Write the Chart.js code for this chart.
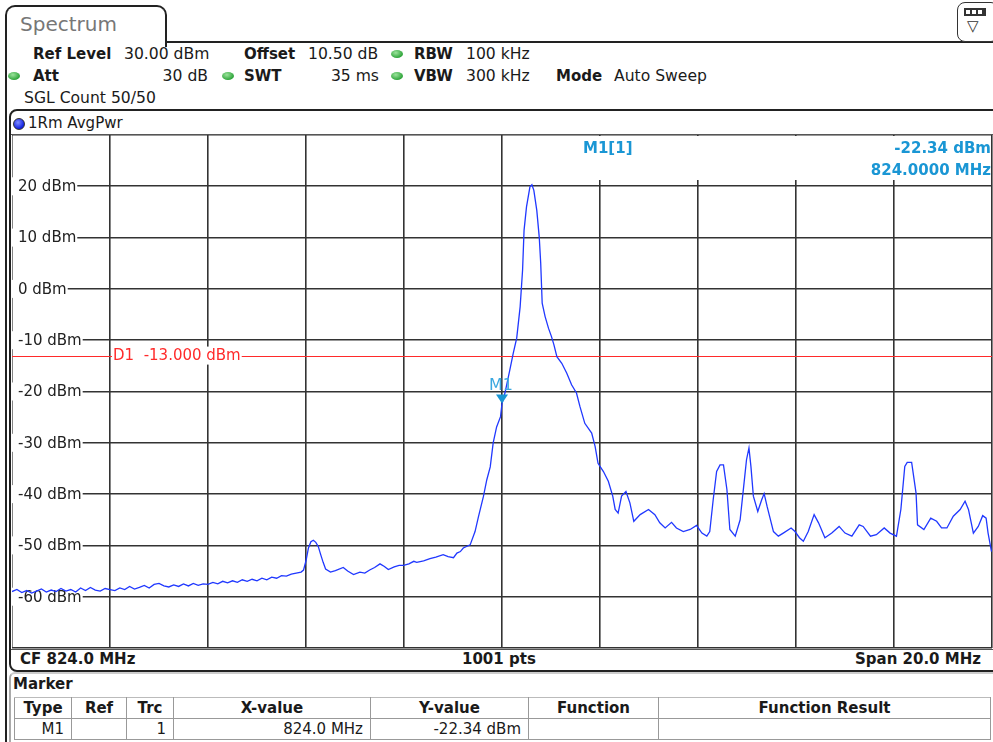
<!DOCTYPE html>
<html>
<head>
<meta charset="utf-8">
<script src="https://cdn.jsdelivr.net/npm/chart.js@4/dist/chart.umd.min.js"></script>
<style>
  body { margin: 0; width: 993px; height: 742px; background: #fff; overflow: hidden;
         font-family: "DejaVu Sans", Verdana, sans-serif; font-size: 15px; color: #1a1a1a; }
  .abs { position: absolute; white-space: nowrap; line-height: 18px; }
  .n { font-size: 15.6px; }
  .b { font-weight: bold; }
  .dot { position: absolute; width: 12px; height: 8px; border-radius: 50%;
         background: radial-gradient(ellipse at 40% 35%, #9be39b, #2ea43a 70%); }
  #tab { position: absolute; left: 5px; top: 5px; width: 158px; height: 40px; border: 2px solid #222;
         border-bottom: none; border-radius: 10px 10px 0 0; background: #fff; }
  #tabline { position: absolute; left: 165px; top: 41px; width: 830px; height: 2px; background: #222; }
  #outer { position: absolute; left: 5px; top: 43px; width: 4px; height: 699px; border-left: 2px solid #222; }
  #trbox { position: absolute; left: 9px; top: 109px; width: 990px; height: 559px; border: 2px solid #222;
           border-radius: 8px 8px 0 8px; }
  #plotframe { position: absolute; left: 11px; top: 134px; width: 982px; height: 514px;
               border-top: 1px solid #555; border-bottom: 1px solid #555; }
  #mkpanel { position: absolute; left: 9px; top: 672px; width: 990px; height: 80px;
             border-left: 2px solid #aaa; border-top: 2px solid #ccc; border-radius: 6px 0 0 0; }
  #icon { position: absolute; left: 957px; top: 2px; width: 40px; height: 38px; border: 1.5px solid #333;
          border-radius: 8px; background: #fff; }
  table { position: absolute; left: 14px; top: 697px; border-collapse: collapse; font-size: 15px;
          table-layout: fixed; }
  td { border: 1px solid #999; height: 20px; padding: 0 7px; line-height: 19px; overflow: hidden; }
  tr.h td { font-weight: bold; text-align: center; border-top: 1px solid #bbb; }
  tr.d td { text-align: right; }
  canvas { position: absolute; left: 12px; top: 135px; }
</style>
</head>
<body>
<div id="outer"></div>
<div id="tab"></div>
<div id="tabline"></div>
<div class="abs" style="left:20px;top:12px;font-size:20px;line-height:24px;color:#777;">Spectrum</div>
<div id="icon">
  <div style="position:absolute;left:6px;top:5px;width:22px;height:8px;background:#333;"></div>
  <div style="position:absolute;left:8px;top:7px;width:4px;height:4px;background:#fff;"></div>
  <div style="position:absolute;left:14px;top:7px;width:4px;height:4px;background:#fff;"></div>
  <div style="position:absolute;left:20px;top:7px;width:4px;height:4px;background:#fff;"></div>
  <div class="abs" style="left:9px;top:14px;font-size:15px;color:#333;">&#9661;</div>
</div>

<div class="abs b" style="left:33px;top:45px;">Ref Level</div>
<div class="abs n" style="left:124px;top:45px;">30.00 dBm</div>
<div class="abs b" style="left:244px;top:45px;">Offset</div>
<div class="abs n" style="left:308px;top:45px;">10.50 dB</div>
<div class="dot" style="left:391px;top:50px;"></div>
<div class="abs b" style="left:414px;top:45px;">RBW</div>
<div class="abs n" style="left:466px;top:45px;">100 kHz</div>

<div class="dot" style="left:8px;top:72px;"></div>
<div class="abs b" style="left:33px;top:67px;">Att</div>
<div class="abs n" style="right:785px;top:67px;">30 dB</div>
<div class="dot" style="left:222px;top:72px;"></div>
<div class="abs b" style="left:244px;top:67px;">SWT</div>
<div class="abs n" style="right:614px;top:67px;">35 ms</div>
<div class="dot" style="left:391px;top:72px;"></div>
<div class="abs b" style="left:414px;top:67px;">VBW</div>
<div class="abs n" style="left:466px;top:67px;">300 kHz</div>
<div class="abs b" style="left:556px;top:67px;">Mode</div>
<div class="abs n" style="left:614px;top:67px;">Auto Sweep</div>

<div class="abs n" style="left:24px;top:89px;">SGL Count 50/50</div>

<div id="trbox"></div>
<div style="position:absolute;left:13px;top:118px;width:10px;height:10px;border-radius:50%;background:radial-gradient(circle at 40% 35%,#7f8cff,#1020e0 70%);border:1px solid #333;"></div>
<div class="abs" style="left:28px;top:114px;">1Rm AvgPwr</div>
<div id="plotframe"></div>
<canvas id="spec" width="981" height="514"></canvas>

<div class="abs b" style="left:20px;top:650px;">CF 824.0 MHz</div>
<div class="abs b" style="left:462px;top:650px;">1001 pts</div>
<div class="abs b" style="right:12px;top:650px;">Span 20.0 MHz</div>

<div id="mkpanel"></div>
<div class="abs b" style="left:13px;top:675px;">Marker</div>
<table>
  <colgroup><col style="width:57px"><col style="width:55px"><col style="width:47px"><col style="width:197px">
    <col style="width:158px"><col style="width:130px"><col style="width:332px"></colgroup>
  <tr class="h"><td>Type</td><td>Ref</td><td>Trc</td><td>X-value</td><td>Y-value</td><td>Function</td>
    <td>Function Result</td></tr>
  <tr class="d"><td>M1</td><td></td><td>1</td><td>824.0 MHz</td><td>-22.34 dBm</td><td></td><td></td></tr>
</table>

<script>
(function() {
  'use strict';

  // sweep: 814 .. 834 MHz, levels in dBm
  const freqs = [
    814.00, 814.10, 814.20, 814.30, 814.40, 814.50, 814.60, 814.70, 814.80, 814.90,
    815.00, 815.10, 815.20, 815.30, 815.40, 815.50, 815.60, 815.70, 815.80, 815.90,
    816.00, 816.10, 816.20, 816.30, 816.40, 816.50, 816.60, 816.70, 816.80, 816.90,
    817.00, 817.10, 817.20, 817.30, 817.40, 817.50, 817.60, 817.70, 817.80, 817.90,
    818.00, 818.10, 818.20, 818.30, 818.40, 818.50, 818.60, 818.70, 818.80, 818.90,
    819.00, 819.10, 819.20, 819.30, 819.40, 819.50, 819.60, 819.70, 819.80, 819.90,
    819.95, 820.00, 820.05, 820.10, 820.15, 820.20, 820.25, 820.30, 820.35, 820.40,
    820.50, 820.60, 820.76, 820.85, 820.97, 821.10, 821.20, 821.30, 821.40, 821.51,
    821.60, 821.68, 821.80, 821.90, 821.99, 822.10, 822.20, 822.26, 822.40, 822.53,
    822.65, 822.80, 822.90, 823.01, 823.08, 823.15, 823.21, 823.35, 823.45, 823.52,
    823.62, 823.69, 823.76, 823.82, 823.89, 823.97, 824.00, 824.06, 824.16, 824.23,
    824.30, 824.37, 824.42, 824.45, 824.50, 824.57, 824.61, 824.65, 824.71, 824.76,
    824.79, 824.82, 824.88, 824.95, 825.01, 825.06, 825.12, 825.22, 825.32, 825.42,
    825.52, 825.59, 825.69, 825.83, 825.90, 825.96, 826.07, 826.17, 826.26, 826.31,
    826.37, 826.44, 826.53, 826.61, 826.69, 826.82, 826.99, 827.12, 827.22, 827.33,
    827.46, 827.56, 827.70, 827.84, 827.97, 828.08, 828.18, 828.24, 828.31, 828.38,
    828.45, 828.52, 828.59, 828.65, 828.76, 828.86, 828.94, 828.99, 829.04, 829.08,
    829.13, 829.22, 829.30, 829.35, 829.41, 829.54, 829.64, 829.74, 829.90, 829.98,
    830.07, 830.15, 830.25, 830.37, 830.46, 830.59, 830.73, 830.88, 831.00, 831.14,
    831.29, 831.37, 831.52, 831.64, 831.80, 831.92, 832.05, 832.14, 832.22, 832.27,
    832.36, 832.45, 832.48, 832.61, 832.75, 832.87, 832.97, 833.08, 833.21, 833.35,
    833.45, 833.52, 833.62, 833.72, 833.81, 833.88, 833.92, 833.99
  ];
  const levels = [
    -59.0, -58.6, -59.2, -58.8, -59.3, -58.9, -58.5, -59.1, -58.7, -59.0,
    -58.4, -58.9, -58.6, -59.1, -58.3, -58.8, -58.2, -58.7, -58.9, -58.4,
    -58.6, -58.8, -58.3, -58.6, -58.0, -58.5, -58.2, -57.8, -58.3, -57.6,
    -57.4, -57.9, -58.1, -57.7, -58.0, -57.5, -57.9, -57.4, -57.8, -57.5,
    -57.6, -57.2, -57.5, -57.0, -57.3, -56.9, -57.2, -56.7, -57.0, -56.6,
    -56.9, -56.4, -56.7, -56.2, -56.4, -55.9, -56.0, -55.6, -55.4, -55.2,
    -54.8, -53.0, -50.5, -49.3, -49.0, -49.4, -50.2, -51.8, -53.3, -54.6,
    -55.2, -54.9, -54.3, -55.0, -55.7, -55.2, -55.4, -54.8, -54.3, -53.6,
    -54.1, -54.7, -54.2, -53.9, -53.9, -53.6, -53.1, -53.3, -53.0, -52.6,
    -52.3, -51.8, -52.2, -52.4, -51.5, -51.2, -50.5, -49.9, -47.3, -44.4,
    -40.5, -37.2, -34.7, -30.0, -26.9, -24.9, -22.34, -20.3, -15.8, -12.5,
    -9.6, -3.5, 3.7, 11.4, 16.0, 19.9, 20.3, 19.2, 15.3, 10.1,
    5.0, -2.8, -5.4, -7.7, -9.3, -10.9, -13.2, -14.5, -16.4, -18.7,
    -20.3, -22.9, -26.2, -28.1, -30.7, -34.0, -35.6, -37.5, -40.4, -43.0,
    -43.7, -40.4, -39.5, -41.7, -45.3, -44.0, -43.0, -44.0, -45.6, -46.6,
    -45.5, -46.6, -47.3, -46.9, -46.1, -47.6, -48.2, -47.3, -41.1, -35.6,
    -34.3, -34.3, -39.1, -46.9, -48.2, -45.0, -37.8, -33.3, -31.0, -34.6,
    -40.4, -43.4, -41.1, -39.9, -42.4, -47.3, -48.2, -47.6, -46.6, -47.3,
    -48.5, -49.2, -47.3, -44.0, -45.6, -48.5, -47.6, -46.3, -47.6, -48.2,
    -46.0, -46.3, -48.2, -47.9, -46.6, -47.6, -48.2, -43.0, -34.6, -33.8,
    -33.8, -39.8, -46.0, -46.9, -44.7, -45.3, -46.6, -46.6, -44.3, -43.0,
    -41.4, -43.0, -47.6, -46.3, -44.2, -44.7, -47.6, -51.2
  ];

  const yTicks = [20, 10, 0, -10, -20, -30, -40, -50, -60];
  const displayLine = -13;          // D1
  const markerFreq = 824.0;          // M1
  const markerLevel = -22.34;

  const blue = '#1a96d4';
  const font = '15px "DejaVu Sans", Verdana, sans-serif';
  const fontB = 'bold 15px "DejaVu Sans", Verdana, sans-serif';

  const overlay = {
    id: 'overlay',
    beforeDatasetsDraw(chart) {
      const ctx = chart.ctx, a = chart.chartArea;
      const ys = chart.scales.y;
      ctx.save();

      // marker readout box
      ctx.fillStyle = '#fff';
      ctx.fillRect(a.left + 560, a.top + 1, a.right - a.left - 561, 44);
      ctx.fillStyle = blue;
      ctx.font = fontB;
      ctx.textBaseline = 'middle';
      ctx.textAlign = 'left';
      ctx.fillText('M1[1]', a.left + 571, a.top + 14);
      ctx.textAlign = 'right';
      ctx.fillText(markerLevel.toFixed(2) + ' dBm', a.right - 1, a.top + 14);
      ctx.fillText(markerFreq.toFixed(4) + ' MHz', a.right - 1, a.top + 36);

      // level labels
      ctx.font = font;
      ctx.textAlign = 'left';
      yTicks.forEach(function(v) {
        const y = ys.getPixelForValue(v);
        const t = v + ' dBm';
        const w = ctx.measureText(t).width;
        ctx.fillStyle = '#fff';
        ctx.fillRect(a.left, y - 9, w + 7, 18);
        ctx.fillStyle = '#222';
        ctx.fillText(t, a.left + 6, y + 1);
      });

      // display line D1
      const yd = ys.getPixelForValue(displayLine);
      ctx.strokeStyle = '#ff2a2a';
      ctx.lineWidth = 1;
      ctx.beginPath();
      ctx.moveTo(a.left, Math.round(yd) + 0.5);
      ctx.lineTo(a.right, Math.round(yd) + 0.5);
      ctx.stroke();
      const dl = 'D1  ' + displayLine.toFixed(3) + ' dBm';
      const dw = ctx.measureText(dl).width;
      ctx.fillStyle = '#fff';
      ctx.fillRect(a.left + 100, yd - 9, dw + 2, 18);
      ctx.fillStyle = '#ff2a2a';
      ctx.fillText(dl, a.left + 101, yd + 1);
      ctx.restore();
    },
    afterDatasetsDraw(chart) {
      const ctx = chart.ctx;
      const px = chart.scales.x.getPixelForValue(markerFreq);
      const py = chart.scales.y.getPixelForValue(markerLevel);
      ctx.save();
      ctx.fillStyle = blue;
      ctx.beginPath();
      ctx.moveTo(px, py);
      ctx.lineTo(px - 6, py - 9);
      ctx.lineTo(px + 6, py - 9);
      ctx.closePath();
      ctx.fill();
      ctx.fillStyle = '#3aa8e0';
      ctx.font = '16px "DejaVu Sans", Verdana, sans-serif';
      ctx.textAlign = 'center';
      ctx.textBaseline = 'middle';
      ctx.fillText('M1', px - 1, py - 18);
      ctx.restore();
    }
  };

  new Chart(document.getElementById('spec'), {
    type: 'line',
    data: {
      datasets: [{
        label: '1Rm AvgPwr',
        data: freqs.map(function(f, i) { return { x: f, y: levels[i] }; }),
        borderColor: '#2038ff',
        borderWidth: 1.3,
        pointRadius: 0,
        tension: 0
      }]
    },
    options: {
      responsive: false,
      animation: false,
      layout: { padding: { left: 0, right: 1, top: 0, bottom: 1 } },
      plugins: { legend: { display: false }, tooltip: { enabled: false } },
      scales: {
        x: {
          type: 'linear', min: 814, max: 834,
          ticks: { display: false, stepSize: 2 },
          grid: { color: '#333', lineWidth: 1.6, drawTicks: false },
          border: { display: false }
        },
        y: {
          min: -70, max: 30,
          ticks: { display: false, stepSize: 10 },
          grid: { color: '#333', lineWidth: 1.6, drawTicks: false },
          border: { display: false }
        }
      }
    },
    plugins: [overlay]
  });
})();
</script>
</body>
</html>
